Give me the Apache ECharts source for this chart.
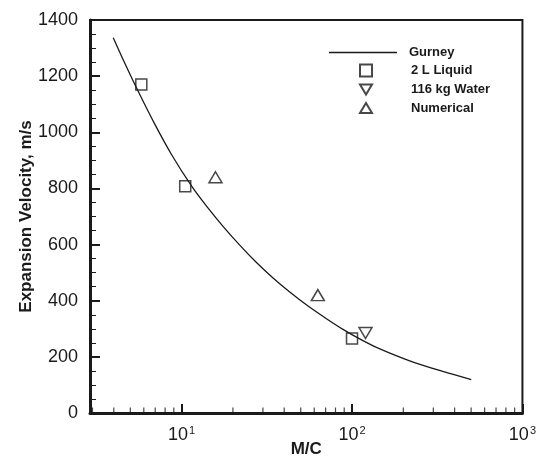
<!DOCTYPE html>
<html>
<head>
<meta charset="utf-8">
<script src="https://cdn.jsdelivr.net/npm/echarts@6/dist/echarts.min.js"></script>
<style>
  html, body { margin: 0; padding: 0; background: #fff; }
  #chart { width: 539px; height: 465px; }
</style>
</head>
<body>
<div id="chart"></div>
<script>
// Gurney curve
var gurney = [[3.97, 1337], [4.65, 1245], [5.57, 1145], [6.97, 1028], [8.74, 920], [11.45, 808],
              [14.0, 737], [17.5, 665], [22.0, 597], [27.5, 536], [34.4, 481], [43.1, 431],
              [55.2, 381], [70.8, 336], [88.5, 298], [110.9, 264], [139, 234], [218, 186],
              [341, 148], [501, 119]];
// measured points
var liquid2L = [[5.8, 1170], [10.5, 808], [100, 265]];
var water116 = [[120, 285]];
var numerical = [[15.8, 840], [63, 420]];
// minor ticks on the log axis
var minorX = [3, 4, 5, 6, 7, 8, 9, 20, 30, 40, 50, 60, 70, 80, 90,
              200, 300, 400, 500, 600, 700, 800, 900];

var sup = { '10': '1', '100': '2', '1000': '3' };

var myChart = echarts.init(document.getElementById('chart'));
var ink = '#1a1a1a';
var legendText = { fontFamily: 'Liberation Sans', fontWeight: 'bold', fontSize: 13, lineHeight: 13, color: ink };

var option = {
    animation: false,
    textStyle: { fontFamily: 'Liberation Sans' },
    grid: {
        left: 90, right: 16, top: 20, bottom: 52,
        show: true, borderColor: ink, borderWidth: 2, backgroundColor: 'transparent'
    },
    legend: [
        {
            orient: 'vertical', padding: 0,
            left: 329, top: 46,
            itemWidth: 68, itemHeight: 1.5, itemGap: 5,
            textStyle: Object.assign({ padding: [0, 0, 0, 7] }, legendText),
            data: [{ name: 'Gurney', icon: 'rect' }]
        },
        {
            orient: 'vertical', padding: 0,
            left: 359, top: 63.5,
            itemWidth: 12, itemHeight: 12, itemGap: 5.5,
            textStyle: Object.assign({ padding: [0, 0, 0, 34] }, legendText),
            data: [
                { name: '2 L Liquid', icon: 'rect' },
                { name: '116 kg Water', icon: 'path://M0,0L13,0L6.5,11Z' },
                { name: 'Numerical', icon: 'path://M6.5,0L13,11L0,11Z' }
            ]
        }
    ],
    xAxis: {
        type: 'log', logBase: 10, min: 2.9, max: 1000,
        name: 'M/C', nameLocation: 'middle', nameGap: 28, nameMoveOverlap: false,
        nameTextStyle: { fontWeight: 'bold', fontSize: 17, color: ink },
        axisLine: { lineStyle: { color: ink, width: 3 } },
        axisTick: { inside: true, length: 9, lineStyle: { color: ink, width: 2 } },
        splitLine: { show: false },
        axisLabel: {
            color: ink, fontSize: 18, margin: 12,
            formatter: function (v) {
                var k = String(Math.round(v));
                if (!sup[k] || Math.abs(v - Math.round(v)) > 1e-6) return '';
                return '10{s|' + sup[k] + '}';
            },
            rich: { s: { fontSize: 11, verticalAlign: 'top', padding: [0, 0, 10, 1], color: ink } }
        }
    },
    yAxis: {
        type: 'value', min: 0, max: 1400, interval: 200,
        name: 'Expansion Velocity, m/s', nameLocation: 'middle', nameGap: 55, nameMoveOverlap: false,
        nameTextStyle: { fontWeight: 'bold', fontSize: 17, color: ink },
        axisLine: { show: true, lineStyle: { color: ink, width: 3 } },
        axisTick: { show: true, inside: true, length: 10, lineStyle: { color: ink, width: 2 } },
        minorTick: { show: true, splitNumber: 4, length: 6, lineStyle: { color: ink, width: 1 } },
        splitLine: { show: false },
        axisLabel: {
            color: ink, fontSize: 18, margin: 12,
            formatter: function (v) { return String(v); }
        }
    },
    series: [
        {
            name: 'Gurney', type: 'line', data: gurney, smooth: 0.3,
            symbol: 'none', lineStyle: { color: ink, width: 1.3 }, itemStyle: { color: ink }
        },
        {
            name: '2 L Liquid', type: 'scatter', data: liquid2L,
            symbol: 'rect', symbolSize: 11,
            itemStyle: { color: '#fff', borderColor: ink, borderWidth: 1.5 }
        },
        {
            name: '116 kg Water', type: 'scatter', data: water116,
            symbol: 'triangle', symbolSize: [13, 11], symbolRotate: 180,
            itemStyle: { color: '#fff', borderColor: ink, borderWidth: 1.5 }
        },
        {
            name: 'Numerical', type: 'scatter', data: numerical,
            symbol: 'triangle', symbolSize: [13, 11],
            itemStyle: { color: '#fff', borderColor: ink, borderWidth: 1.5 }
        },
        {
            name: 'minorX', type: 'scatter', silent: true,
            data: minorX.map(function (v) { return [v, 0]; }),
            symbol: 'rect', symbolSize: [1.2, 5], symbolOffset: [0, -3],
            itemStyle: { color: ink }, z: 1
        }
    ]
};
myChart.setOption(option);
</script>
</body>
</html>
